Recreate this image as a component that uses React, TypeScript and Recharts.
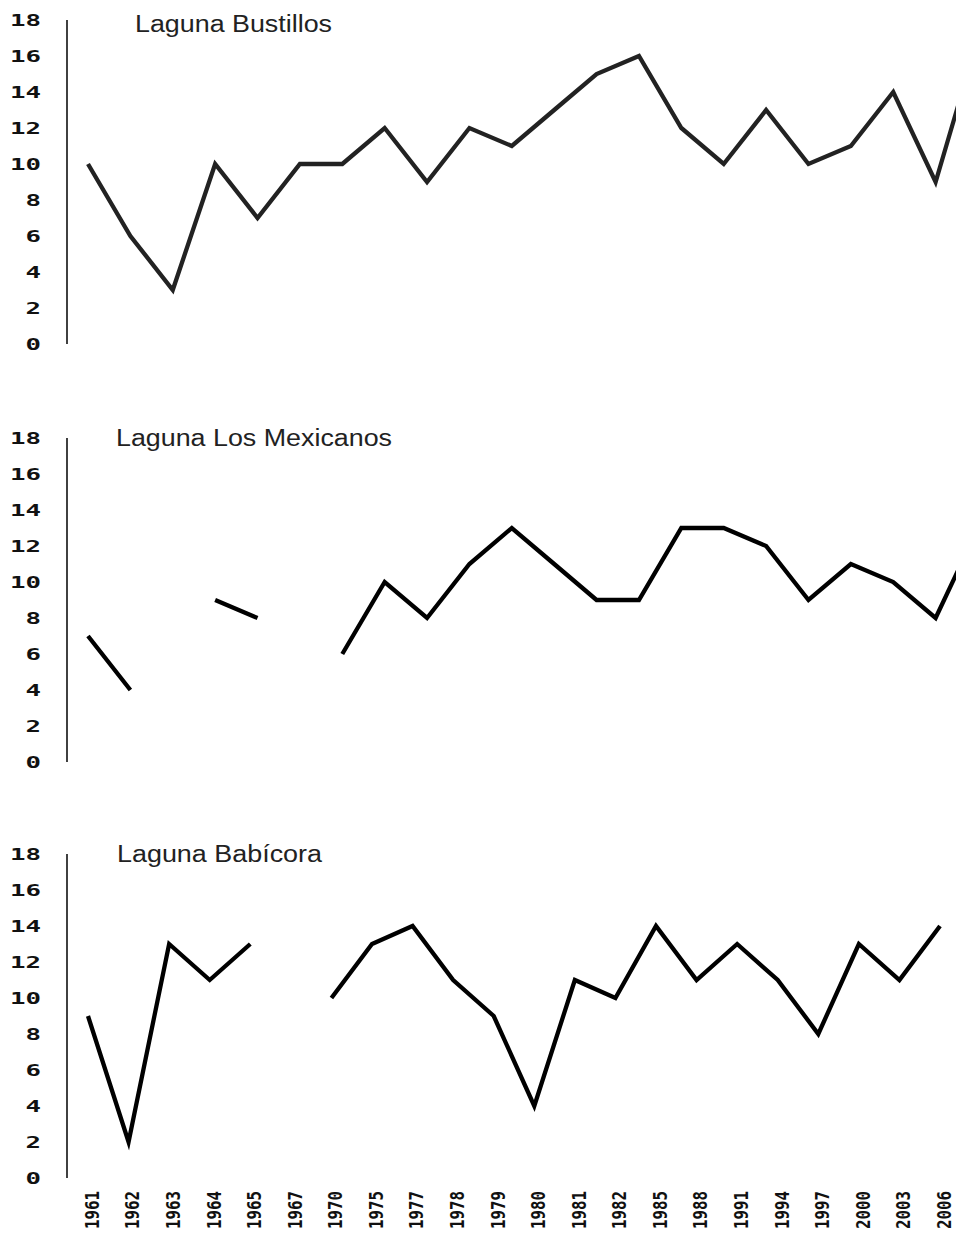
import { LineChart, Line, XAxis, YAxis } from "recharts";

const years = [
  "1961", "1962", "1963", "1964", "1965", "1967", "1970", "1975", "1977", "1978", "1979",
  "1980", "1981", "1982", "1985", "1988", "1991", "1994", "1997", "2000", "2003", "2006",
];

const bustillos = [10, 6, 3, 10, 7, 10, 10, 12, 9, 12, 11, 13, 15, 16, 12, 10, 13, 10, 11, 14, 9, 17];
const mexicanos = [7, 4, null, 9, 8, null, 6, 10, 8, 11, 13, 11, 9, 9, 13, 13, 12, 9, 11, 10, 8, 13];
const babicora = [9, 2, 13, 11, 13, null, 10, 13, 14, 11, 9, 4, 11, 10, 14, 11, 13, 11, 8, 13, 11, 14];

const yTicks = [0, 2, 4, 6, 8, 10, 12, 14, 16, 18];

const titles = [
  { text: "Laguna Bustillos", x: 135, y: 32, len: 197 },
  { text: "Laguna Los Mexicanos", x: 116, y: 446, len: 276 },
  { text: "Laguna Babícora", x: 117, y: 862, len: 205 },
];

const toRows = (vals: (number | null)[]) => years.map((year, i) => ({ year, v: vals[i] }));

const monoFont = "'DejaVu Sans Mono', monospace";

function YTick(props: any) {
  const { y, payload } = props;
  const label = String(payload.value);
  const len = label.length * 15.5;
  return (
    <text
      x={41 - len}
      y={y + 6}
      fontFamily={monoFont}
      fontWeight="bold"
      fontSize={16}
      fill="#111"
      textLength={len}
      lengthAdjust="spacingAndGlyphs"
    >
      {label}
    </text>
  );
}

// bottom panel only; y is in that chart's own coordinates (page y 1191)
function XTick(props: any) {
  const { x, payload } = props;
  return (
    <g transform={`translate(${x + 4},357)`}>
      <text
        transform="rotate(-90)"
        textAnchor="end"
        dy="0.36em"
        fontFamily={monoFont}
        fontWeight="bold"
        fontSize={19}
        fill="#111"
        textLength={38}
        lengthAdjust="spacingAndGlyphs"
      >
        {payload.value}
      </text>
    </g>
  );
}

function Panel({
  values,
  top,
  width,
  height,
  right,
  bottom,
  color,
  showX,
}: {
  values: (number | null)[];
  top: number;
  width: number;
  height: number;
  right: number;
  bottom: number;
  color: string;
  showX?: boolean;
}) {
  return (
    <div style={{ position: "absolute", left: 0, top }}>
      <LineChart
        width={width}
        height={height}
        data={toRows(values)}
        margin={{ top: 20, right, bottom, left: 0 }}
      >
        <XAxis
          dataKey="year"
          hide={!showX}
          height={showX ? 55 : 0}
          axisLine={false}
          tickLine={false}
          interval={0}
          tick={<XTick />}
          padding={{ left: 21, right: 0 }}
        />
        <YAxis
          width={67}
          domain={[0, 18]}
          ticks={yTicks}
          interval={0}
          tickLine={false}
          tickSize={0}
          axisLine={{ stroke: "#111", strokeWidth: 1.6 }}
          tick={<YTick />}
        />
        <Line
          dataKey="v"
          stroke={color}
          strokeWidth={4.3}
          dot={false}
          activeDot={false}
          connectNulls={false}
          isAnimationActive={false}
        />
      </LineChart>
    </div>
  );
}

export default function App() {
  return (
    <div
      style={{
        position: "absolute",
        left: 0,
        top: 0,
        width: 956,
        height: 1233,
        overflow: "hidden",
        background: "#fff",
      }}
    >
      <Panel values={bustillos} top={0} width={1000} height={360} right={22} bottom={16} color="#222" />
      <Panel values={mexicanos} top={418} width={1000} height={360} right={22} bottom={16} color="#000" />
      <Panel values={babicora} top={834} width={956} height={399} right={16} bottom={0} color="#000" showX />
      <svg
        width={956}
        height={1233}
        style={{ position: "absolute", left: 0, top: 0, pointerEvents: "none" }}
      >
        {titles.map((t) => (
          <text
            key={t.text}
            x={t.x}
            y={t.y}
            fontFamily="'Liberation Sans', Arial, sans-serif"
            fontSize={23}
            fill="#222"
            textLength={t.len}
            lengthAdjust="spacingAndGlyphs"
          >
            {t.text}
          </text>
        ))}
      </svg>
    </div>
  );
}
